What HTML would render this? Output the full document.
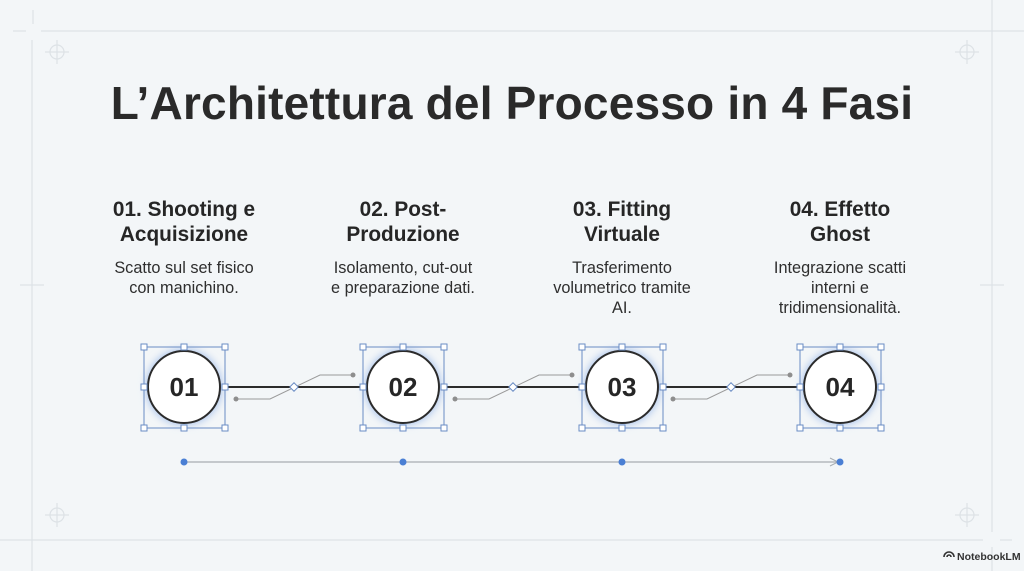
<!DOCTYPE html>
<html><head><meta charset="utf-8"><style>
body{margin:0;width:1024px;height:571px;background:#f3f6f8;overflow:hidden;font-family:"Liberation Sans",sans-serif;position:relative;color:#262626}
.t{position:absolute;text-align:center;width:240px}
h1{position:absolute;left:0;width:1024px;top:76px;margin:0;text-align:center;font-size:46px;font-weight:bold;color:#2a2a2a;letter-spacing:0.2px}
.h{font-weight:bold;font-size:20.8px;line-height:25px;top:197px;color:#262626}
.d{font-size:16.3px;line-height:20px;top:258px;color:#2e2e2e}
</style></head><body>
<svg width="1024" height="571" style="position:absolute;left:0;top:0">
<g stroke="#dde2e6" stroke-width="1.2" fill="none">
<line x1="41" y1="31" x2="1024" y2="31"/><line x1="32" y1="40" x2="32" y2="571"/>
<line x1="992" y1="0" x2="992" y2="532"/><line x1="0" y1="540" x2="983" y2="540"/>
<line x1="13" y1="31" x2="26" y2="31"/><line x1="33" y1="10" x2="33" y2="24"/>
<line x1="1000" y1="540" x2="1012" y2="540"/><line x1="992" y1="547" x2="992" y2="571"/>
<line x1="20" y1="285" x2="44" y2="285"/><line x1="980" y1="285" x2="1004" y2="285"/>
<circle cx="57" cy="52" r="7"/><line x1="45" y1="52" x2="69" y2="52"/><line x1="57" y1="40" x2="57" y2="64"/>
<circle cx="967" cy="52" r="7"/><line x1="955" y1="52" x2="979" y2="52"/><line x1="967" y1="40" x2="967" y2="64"/>
<circle cx="57" cy="515" r="7"/><line x1="45" y1="515" x2="69" y2="515"/><line x1="57" y1="503" x2="57" y2="527"/>
<circle cx="967" cy="515" r="7"/><line x1="955" y1="515" x2="979" y2="515"/><line x1="967" y1="503" x2="967" y2="527"/>
</g>
<defs><filter id="g" x="-50%" y="-50%" width="200%" height="200%"><feGaussianBlur stdDeviation="4"/></filter></defs>
<g stroke="#2b2b2b" stroke-width="2"><line x1="225" y1="387" x2="365" y2="387"/><line x1="445" y1="387" x2="584" y2="387"/><line x1="664" y1="387" x2="802" y2="387"/></g>
<g stroke="#9a9a9a" stroke-width="1" fill="none">
<polyline points="236,399 270,399 320,375 353,375"/><polyline points="455,399 489,399 539,375 572,375"/><polyline points="673,399 707,399 757,375 790,375"/>
</g>
<g fill="#8e8e8e"><circle cx="236" cy="399" r="2.5"/><circle cx="353" cy="375" r="2.5"/><circle cx="455" cy="399" r="2.5"/><circle cx="572" cy="375" r="2.5"/><circle cx="673" cy="399" r="2.5"/><circle cx="790" cy="375" r="2.5"/></g>
<g fill="#fff" stroke="#6a8cc4"><rect x="291" y="384" width="6" height="6" transform="rotate(45 294 387)"/><rect x="510" y="384" width="6" height="6" transform="rotate(45 513 387)"/><rect x="728" y="384" width="6" height="6" transform="rotate(45 731 387)"/></g>
<line x1="184" y1="462" x2="840" y2="462" stroke="#a8adb2" stroke-width="1.2"/>
<polyline points="830,458 838,462 830,466" fill="none" stroke="#a8adb2"/>
<g fill="#4a7fd4"><circle cx="184" cy="462" r="3.5"/><circle cx="403" cy="462" r="3.5"/><circle cx="622" cy="462" r="3.5"/><circle cx="840" cy="462" r="3.5"/></g>
<g font-family="Liberation Sans" font-weight="bold" font-size="26" fill="#262626" text-anchor="middle">
<g transform="translate(184,387)"><circle r="38" fill="#a9c3ec" filter="url(#g)"/><circle r="36" fill="#fff" stroke="#2b2b2b" stroke-width="2"/><text y="9">01</text></g>
<g transform="translate(403,387)"><circle r="38" fill="#a9c3ec" filter="url(#g)"/><circle r="36" fill="#fff" stroke="#2b2b2b" stroke-width="2"/><text y="9">02</text></g>
<g transform="translate(622,387)"><circle r="38" fill="#a9c3ec" filter="url(#g)"/><circle r="36" fill="#fff" stroke="#2b2b2b" stroke-width="2"/><text y="9">03</text></g>
<g transform="translate(840,387)"><circle r="38" fill="#a9c3ec" filter="url(#g)"/><circle r="36" fill="#fff" stroke="#2b2b2b" stroke-width="2"/><text y="9">04</text></g>
</g>
<g fill="none" stroke="#6a8cc4" stroke-width="1">
<rect x="144" y="347" width="81" height="81"/><rect x="363" y="347" width="81" height="81"/><rect x="582" y="347" width="81" height="81"/><rect x="800" y="347" width="81" height="81"/>
</g>
<g fill="#fff" stroke="#6a8cc4">
<rect x="141" y="344" width="6" height="6"/><rect x="181" y="344" width="6" height="6"/><rect x="222" y="344" width="6" height="6"/><rect x="141" y="384" width="6" height="6"/><rect x="222" y="384" width="6" height="6"/><rect x="141" y="425" width="6" height="6"/><rect x="181" y="425" width="6" height="6"/><rect x="222" y="425" width="6" height="6"/>
<rect x="360" y="344" width="6" height="6"/><rect x="400" y="344" width="6" height="6"/><rect x="441" y="344" width="6" height="6"/><rect x="360" y="384" width="6" height="6"/><rect x="441" y="384" width="6" height="6"/><rect x="360" y="425" width="6" height="6"/><rect x="400" y="425" width="6" height="6"/><rect x="441" y="425" width="6" height="6"/>
<rect x="579" y="344" width="6" height="6"/><rect x="619" y="344" width="6" height="6"/><rect x="660" y="344" width="6" height="6"/><rect x="579" y="384" width="6" height="6"/><rect x="660" y="384" width="6" height="6"/><rect x="579" y="425" width="6" height="6"/><rect x="619" y="425" width="6" height="6"/><rect x="660" y="425" width="6" height="6"/>
<rect x="797" y="344" width="6" height="6"/><rect x="837" y="344" width="6" height="6"/><rect x="878" y="344" width="6" height="6"/><rect x="797" y="384" width="6" height="6"/><rect x="878" y="384" width="6" height="6"/><rect x="797" y="425" width="6" height="6"/><rect x="837" y="425" width="6" height="6"/><rect x="878" y="425" width="6" height="6"/>
</g>
<g fill="none" stroke="#333" stroke-width="1.6"><path d="M944,557 a5,5 0 0 1 10,0"/><path d="M947,557 a2,2 0 0 1 4,0"/></g>
</svg>
<h1>L’Architettura del Processo in 4 Fasi</h1>
<div class="t h" style="left:64px">01. Shooting e<br>Acquisizione</div>
<div class="t h" style="left:283px">02. Post-<br>Produzione</div>
<div class="t h" style="left:502px">03. Fitting<br>Virtuale</div>
<div class="t h" style="left:720px">04. Effetto<br>Ghost</div>
<div class="t d" style="left:64px">Scatto sul set fisico<br>con manichino.</div>
<div class="t d" style="left:283px">Isolamento, cut-out<br>e preparazione dati.</div>
<div class="t d" style="left:502px">Trasferimento<br>volumetrico tramite<br>AI.</div>
<div class="t d" style="left:720px">Integrazione scatti<br>interni e<br>tridimensionalità.</div>
<div style="position:absolute;left:957px;top:551px;font-size:10.5px;font-weight:bold;color:#333">NotebookLM</div>
</body></html>
